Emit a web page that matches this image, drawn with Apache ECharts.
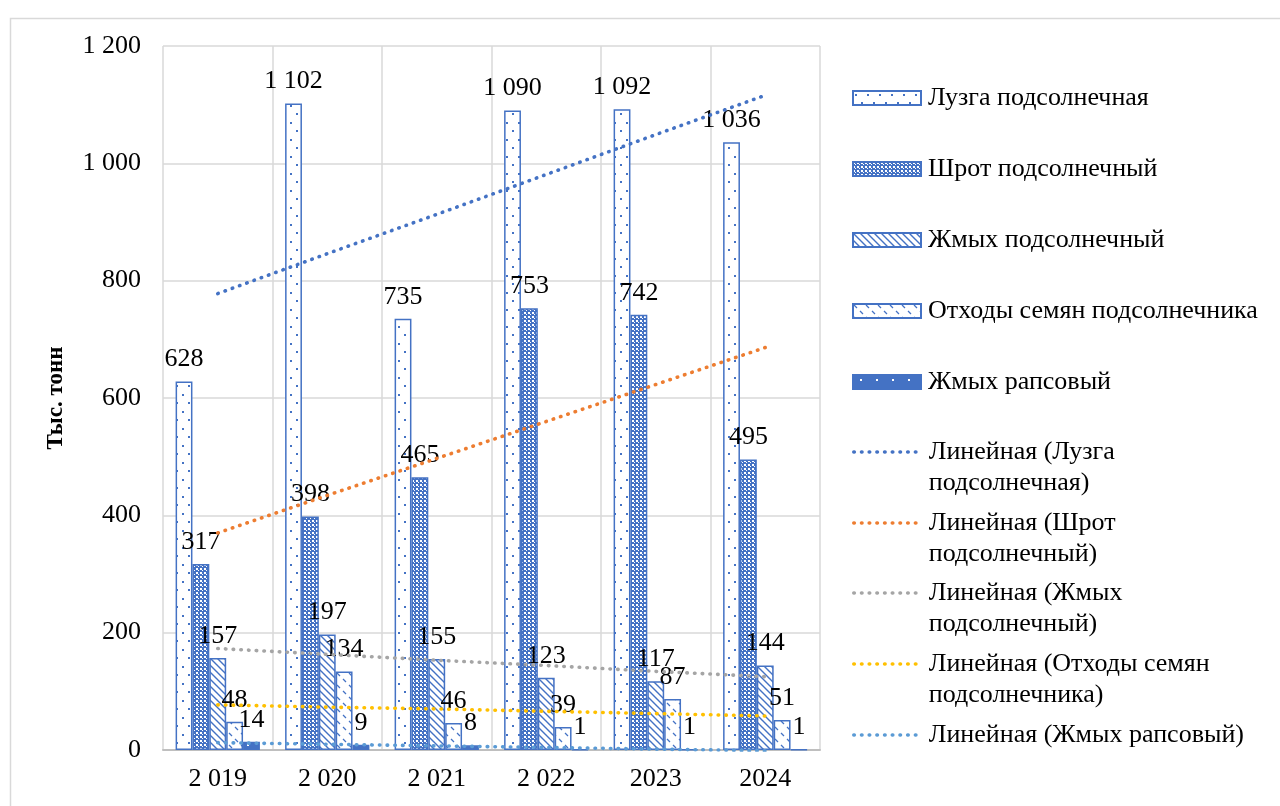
<!DOCTYPE html>
<html>
<head>
<meta charset="utf-8">
<script src="https://cdn.jsdelivr.net/npm/echarts@6/dist/echarts.min.js"></script>
<style>
html,body{margin:0;padding:0;background:#fff;}
#chart{width:1280px;height:806px;}
</style>
</head>
<body>
<div id="chart"></div>
<script>
// категории и данные
var years = ['2 019', '2 020', '2 021', '2 022', '2023', '2024'];
var luzga = [628, 1102, 735, 1090, 1092, 1036];
var shrot = [317, 398, 465, 753, 742, 495];
var zhmyh = [157, 197, 155, 123, 117, 144];
var othody = [48, 134, 46, 39, 87, 51];
var raps = [14, 9, 8, 1, 1, 1];
// линии тренда
var trendLuzga = [778, 846, 913, 981, 1049, 1116];
var trendShrot = [370, 434, 497, 560, 623, 686];
var trendZhmyh = [173, 163, 153, 144, 134, 125];
var trendOthody = [77, 73, 70, 66, 62, 58];
var trendRaps = [12.5, 9.8, 7.0, 4.3, 1.5, -1.2];
var yTicks = [0, 200, 400, 600, 800, 1000, 1200];

var barNames = ['Лузга подсолнечная', 'Шрот подсолнечный', 'Жмых подсолнечный', 'Отходы семян подсолнечника', 'Жмых рапсовый'];
var trendNames = ['Линейная (Лузга подсолнечная)', 'Линейная (Шрот подсолнечный)', 'Линейная (Жмых подсолнечный)', 'Линейная (Отходы семян подсолнечника)', 'Линейная (Жмых рапсовый)'];

(function(){
	var BLUE = '#4472C4';
	var FONT = 'Liberation Serif';

	//пробел между тысячами
	function fmt(v){
		return String(v).replace(/\B(?=(\d{3})+(?!\d))/g, ' ');
	}

	//штриховки
	function pattern(kind){
		var c = document.createElement('canvas'), g;
		if(kind === 'dots'){
			c.width = 12; c.height = 17;
			g = c.getContext('2d');
			g.fillStyle = '#fff'; g.fillRect(0,0,12,17);
			g.fillStyle = BLUE;
			g.fillRect(2,3,2,2); g.fillRect(8,11,2,2);
		} else if(kind === 'checker'){
			c.width = 4; c.height = 4;
			g = c.getContext('2d');
			g.fillStyle = BLUE; g.fillRect(0,0,4,4);
			g.fillStyle = '#fff';
			g.fillRect(0,0,2,2); g.fillRect(2,2,1,1);
		} else if(kind === 'diag'){
			c.width = 7; c.height = 7;
			g = c.getContext('2d');
			g.fillStyle = '#fff'; g.fillRect(0,0,7,7);
			g.strokeStyle = BLUE; g.lineWidth = 1.4;
			g.beginPath();
			g.moveTo(-1,-1); g.lineTo(8,8);
			g.moveTo(-4,3); g.lineTo(4,11);
			g.moveTo(3,-4); g.lineTo(11,4);
			g.stroke();
		} else if(kind === 'sparse'){
			c.width = 12; c.height = 12;
			g = c.getContext('2d');
			g.fillStyle = '#fff'; g.fillRect(0,0,12,12);
			g.strokeStyle = BLUE; g.lineWidth = 1.3;
			g.beginPath();
			g.moveTo(1,1); g.lineTo(4,4);
			g.moveTo(7,7); g.lineTo(10,10);
			g.stroke();
		} else {
			c.width = 16; c.height = 10;
			g = c.getContext('2d');
			g.fillStyle = BLUE; g.fillRect(0,0,16,10);
			g.fillStyle = '#fff';
			g.fillRect(7,4,2,2);
		}
		return {image: c, repeat: 'repeat'};
	}

	var myChart = echarts.init(document.getElementById('chart'));

	var barData = [luzga, shrot, zhmyh, othody, raps];
	var fills = ['dots', 'checker', 'diag', 'sparse', 'solid'];
	var trendData = [trendLuzga, trendShrot, trendZhmyh, trendOthody, trendRaps];
	var trendColors = ['#4472C4', '#ED7D31', '#A5A5A5', '#FFC000', '#5B9BD5'];

	var series = [];
	for(var i = 0; i < 5; i++){
		series.push({
			name: barNames[i],
			type: 'bar',
			barGap: '0%',
			barCategoryGap: '23%',
			itemStyle: {color: pattern(fills[i]), borderColor: BLUE, borderWidth: 1.5},
			label: {
				show: true,
				position: 'top',
				distance: 9,
				fontFamily: FONT,
				fontSize: 26,
				color: '#000',
				formatter: function(p){ return fmt(p.value); }
			},
			data: barData[i]
		});
	}
	for(var i = 0; i < 5; i++){
		series.push({
			name: trendNames[i],
			type: 'line',
			symbol: 'none',
			silent: true,
			z: 5,
			clip: true,
			lineStyle: {color: trendColors[i], width: 3.6, type: [0.5, 7.2], cap: 'round'},
			itemStyle: {color: trendColors[i]},
			data: trendData[i]
		});
	}

	//легенды — по одной на строку
	var legends = [];
	var barCenters = [98, 169, 240, 311, 382];
	for(var i = 0; i < 5; i++){
		legends.push({
			data: [barNames[i]],
			left: 852,
			top: barCenters[i] - 15,
			padding: 0,
			itemWidth: 68,
			itemHeight: 14,
			icon: 'rect',
			selectedMode: false,
			textStyle: {fontFamily: FONT, fontSize: 26, color: '#000', lineHeight: 30, padding: [0,0,0,2]}
		});
	}
	var trendCenters = [452, 523, 593, 664, 735];
	for(var i = 0; i < 5; i++){
		var two = i < 4;
		legends.push({
			data: [trendNames[i]],
			left: 852,
			top: two ? trendCenters[i] - 46.5 : trendCenters[i] - 15.5,
			padding: 0,
			itemWidth: 68,
			itemHeight: 14,
			selectedMode: false,
			itemStyle: {opacity: 0},
			lineStyle: {width: 3.6, type: [0.5, 7.2], cap: 'round'},
			//пустая первая строка — значок встаёт на уровень первой строки текста
			formatter: two ? function(n){ return '\n' + n.replace(/ (\S+)\)$/, '\n$1)'); } : '{name}',
			textStyle: {fontFamily: FONT, fontSize: 26, color: '#000', lineHeight: 31, padding: [0,0,0,2]}
		});
	}

	var option = {
		animation: false,
		backgroundColor: '#fff',
		textStyle: {fontFamily: FONT},
		graphic: [{
			type: 'rect',
			left: 8, top: 16,
			shape: {width: 1290, height: 800},
			style: {fill: 'none', stroke: '#D9D9D9', lineWidth: 1.5},
			silent: true
		}],
		grid: {left: 163, right: 460, top: 46, bottom: 56},
		legend: legends,
		xAxis: {
			type: 'category',
			data: years,
			boundaryGap: true,
			axisTick: {show: false},
			axisLine: {lineStyle: {color: '#BFBFBF', width: 2}},
			splitLine: {show: true, lineStyle: {color: '#D9D9D9', width: 1.5}},
			axisLabel: {fontFamily: FONT, fontSize: 26, color: '#000', margin: 16}
		},
		yAxis: {
			type: 'value',
			min: yTicks[0],
			max: yTicks[yTicks.length - 1],
			interval: 200,
			axisLine: {show: false},
			axisTick: {show: false},
			splitLine: {lineStyle: {color: '#D9D9D9', width: 1.5}},
			axisLabel: {fontFamily: FONT, fontSize: 26, color: '#000', margin: 22, formatter: function(v){ return fmt(v); }},
			name: 'Тыс. тонн',
			nameLocation: 'middle',
			nameRotate: 90,
			nameGap: 95,
			nameTextStyle: {fontFamily: FONT, fontSize: 23, fontWeight: 'bold', color: '#000'}
		},
		series: series
	};
	myChart.setOption(option);
	window.onresize = myChart.resize;
}());
</script>
</body>
</html>
